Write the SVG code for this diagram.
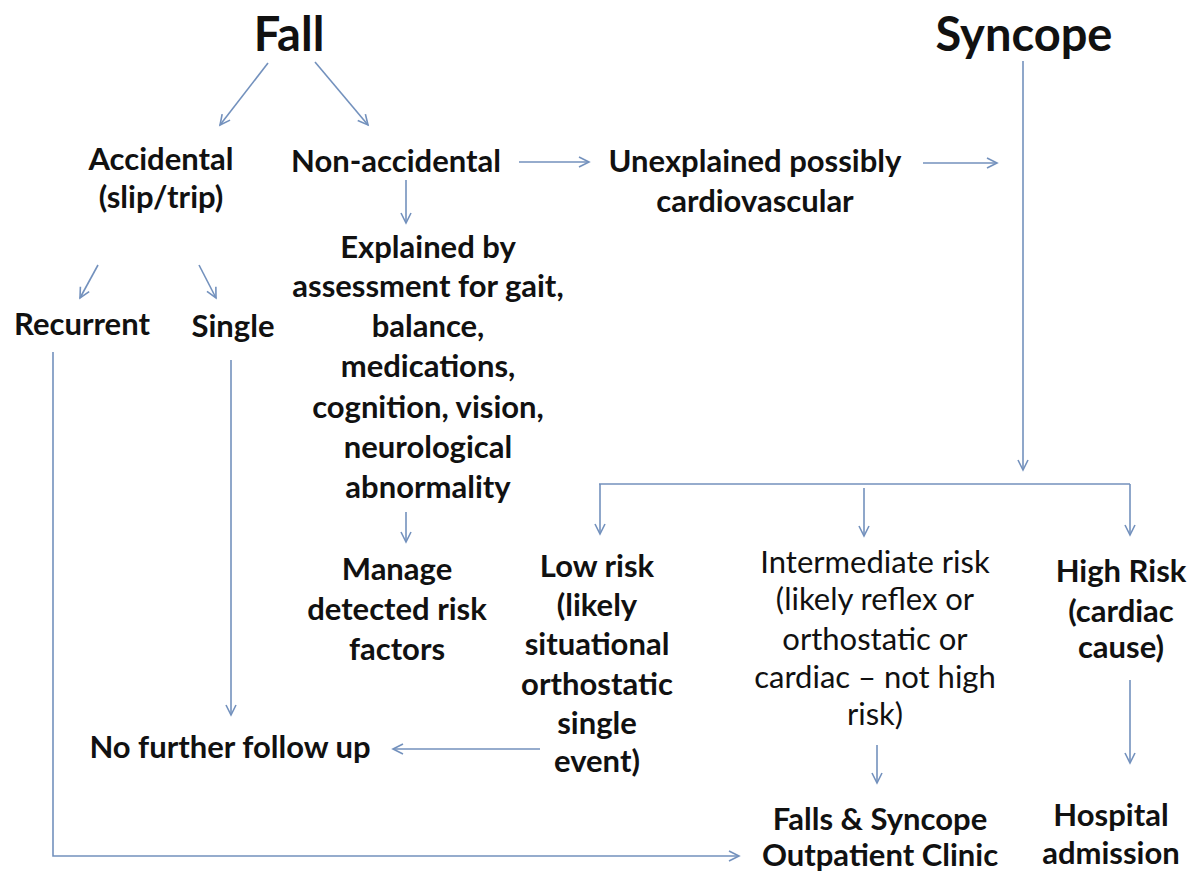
<svg xmlns="http://www.w3.org/2000/svg" width="1189" height="872" viewBox="0 0 1189 872">
<defs>
<style>
text{font-family:Lato,"Open Sans","Liberation Sans",sans-serif;fill:#111;text-anchor:middle}
.b{font-weight:bold;font-size:31px}
.r{font-weight:normal;font-size:31px}
.t{font-weight:bold;font-size:47px}
.c{fill:none;stroke:#7391bd;stroke-width:1.6}
.a{marker-end:url(#ah)}
</style>
<marker id="ah" markerUnits="userSpaceOnUse" markerWidth="14" markerHeight="14" refX="11" refY="6" orient="auto" viewBox="0 0 14 12">
<path d="M1,1 L11,6 L1,11" fill="none" stroke="#7391bd" stroke-width="1.6"/>
</marker>
</defs>
<rect width="1189" height="872" fill="#fff"/>
<g id="connectors">
<path class="c a" d="M268,63 L220,125"/>
<path class="c a" d="M315,62 L368,125"/>
<path class="c a" d="M519,162 L589,162"/>
<path class="c a" d="M923,163 L997,163"/>
<path class="c a" d="M406,180 L406,223"/>
<path class="c a" d="M98,265 L80,298"/>
<path class="c a" d="M199,265 L216,298"/>
<path class="c a" d="M406,512 L406,542"/>
<path class="c a" d="M1023,61 L1023,470"/>
<path class="c" d="M599,484 L1130,484"/>
<path class="c a" d="M600,484 L600,534"/>
<path class="c a" d="M864,488 L864,536"/>
<path class="c a" d="M1130,484 L1130,535"/>
<path class="c a" d="M231,360 L231,715"/>
<path class="c a" d="M540,749 L393,749"/>
<path class="c a" d="M877,745 L877,783"/>
<path class="c a" d="M1130,680 L1130,763"/>
<path class="c a" d="M53,352 L53,856 L739,856"/>
</g>
<g id="fall"><text class="t" x="289" y="51">Fall</text></g>
<g id="syncope"><text class="t" x="1024" y="51">Syncope</text></g>
<g id="accidental"><text class="b" x="161" y="170">Accidental</text><text class="b" x="161" y="208">(slip/trip)</text></g>
<g id="non-accidental"><text class="b" x="396" y="172">Non-accidental</text></g>
<g id="unexplained"><text class="b" x="755" y="172">Unexplained possibly</text><text class="b" x="755" y="212">cardiovascular</text></g>
<g id="recurrent"><text class="b" x="82" y="335">Recurrent</text></g>
<g id="single"><text class="b" x="233" y="337">Single</text></g>
<g id="explained"><text class="b" x="428" y="258">Explained by</text><text class="b" x="428" y="297">assessment for gait,</text><text class="b" x="428" y="337">balance,</text><text class="b" x="428" y="377">medications,</text><text class="b" x="428" y="418">cognition, vision,</text><text class="b" x="428" y="458">neurological</text><text class="b" x="428" y="498">abnormality</text></g>
<g id="manage"><text class="b" x="397" y="580">Manage</text><text class="b" x="397" y="620">detected risk</text><text class="b" x="397" y="660">factors</text></g>
<g id="low-risk"><text class="b" x="597" y="577">Low risk</text><text class="b" x="597" y="616">(likely</text><text class="b" x="597" y="655">situational</text><text class="b" x="597" y="695">orthostatic</text><text class="b" x="597" y="734">single</text><text class="b" x="597" y="772">event)</text></g>
<g id="intermediate-risk"><text class="r" x="875" y="573">Intermediate risk</text><text class="r" x="875" y="610">(likely reflex or</text><text class="r" x="875" y="650">orthostatic or</text><text class="r" x="875" y="688">cardiac – not high</text><text class="r" x="875" y="725">risk)</text></g>
<g id="high-risk"><text class="b" x="1121" y="582">High Risk</text><text class="b" x="1121" y="622">(cardiac</text><text class="b" x="1121" y="658">cause)</text></g>
<g id="no-follow-up"><text class="b" x="230" y="758">No further follow up</text></g>
<g id="clinic"><text class="b" x="880" y="830">Falls &amp; Syncope</text><text class="b" x="880" y="866">Outpatient Clinic</text></g>
<g id="hospital"><text class="b" x="1111" y="826">Hospital</text><text class="b" x="1111" y="864">admission</text></g>
</svg>
